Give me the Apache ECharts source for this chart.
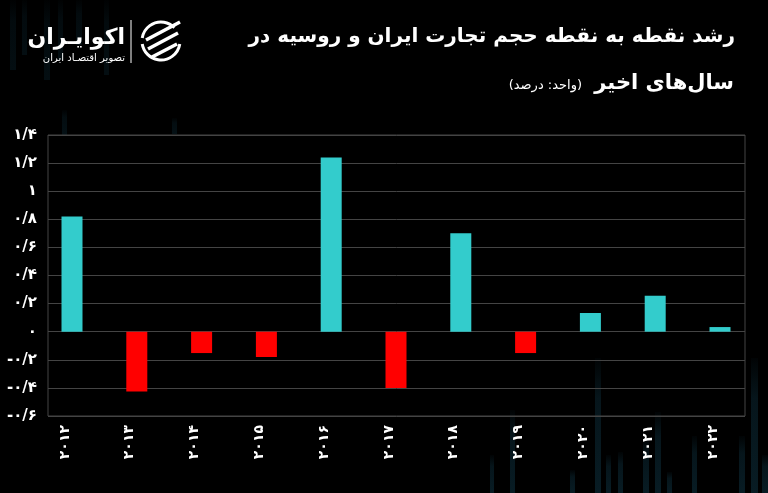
<!DOCTYPE html>
<html><head><meta charset="utf-8">
<script src="https://cdn.jsdelivr.net/npm/echarts@6/dist/echarts.min.js"></script>
<style>html,body{margin:0;padding:0;background:#000}#c{width:768px;height:493px}</style>
</head><body><div id="c"></div>
<script>
// ---- data ----
const years = ['2012','2013','2014','2015','2016','2017','2018','2019','2020','2021','2022'];
const growth = [0.82, -0.425, -0.152, -0.18, 1.24, -0.40, 0.70, -0.152, 0.133, 0.256, 0.033];
const yMin = -0.6, yMax = 1.4, yStep = 0.2;
const titleLine1 = 'رشد نقطه به نقطه حجم تجارت ایران و روسیه در';
const titleLine2 = 'سال\u200cهای اخیر';
const unitText = '(واحد: درصد)';
const brandName = 'اکوایـران';
const brandSub = 'تصویر اقتصـاد ایران';

const fa = s => String(s).replace(/[0-9]/g, d => '۰۱۲۳۴۵۶۷۸۹'[d]);
const fmtY = v => {
  const r = Math.round(v * 10) / 10;
  if (r === 0) return '۰';
  return fa(String(r)).replace('.', '/');
};

const FONT = 'DejaVu Sans';
const POS = '#33CCCC', NEG = '#FF0000';

// decorative background stripes (not data)
const deco = [
  [10,0,6,70,0.5],[22,0,5,55,0.5],[44,0,6,80,0.5],[58,0,5,60,0.5],[62,110,5,25,0.6],[76,0,6,45,0.5],[104,0,5,75,0.5],[172,118,5,16,0.6],
  [595,358,6,135,1],[606,455,5,38,1],[618,452,5,41,1],[643,440,6,53,1],[655,412,6,81,1],[667,472,5,21,1],
  [692,436,5,57,1],[739,436,6,57,1],[751,358,7,135,1],[762,455,6,38,1],[570,470,5,23,1],[510,410,5,83,1],[490,455,4,38,1]
];
const decoGraphics = deco.map(([x,y,w,h,a]) => ({
  type:'rect', z:-10, silent:true,
  shape:{x, y, width:w, height:h},
  style:{opacity:a, fill:new echarts.graphic.LinearGradient(0,0,0,1,[
    {offset:0,color:'rgba(20,70,90,0.05)'},{offset:0.3,color:'rgba(20,70,90,0.3)'},{offset:1,color:'rgba(20,70,90,0.4)'}])}
}));

const chart = echarts.init(document.getElementById('c'), null, {renderer:'canvas'});
chart.setOption({
  backgroundColor:'#000',
  animation:false,
  grid:[
    {left:48, right:23, top:135, bottom:77, show:true, borderColor:'#444', borderWidth:1, z:0},
    {left:39.6, right:15.6, top:135, bottom:77},
    {left:32.6, right:22.6, top:135, bottom:77}
  ],
  xAxis:[
    {gridIndex:0, type:'category', data:years, show:false},
    {gridIndex:1, type:'category', data:years, show:false},
    {gridIndex:2, type:'category', data:years, boundaryGap:true,
     axisLine:{show:false}, axisTick:{show:false}, splitLine:{show:false},
     axisLabel:{show:true, rotate:90, margin:9, color:'#fff', fontFamily:FONT, fontWeight:'bold', fontSize:14,
                formatter:v => fa(v)}}
  ],
  yAxis:[
    {gridIndex:0, type:'value', min:yMin, max:yMax, interval:yStep,
     axisLine:{show:false}, axisTick:{show:false},
     splitLine:{show:true, lineStyle:{color:'#444', width:1}},
     axisLabel:{color:'#fff', fontFamily:FONT, fontWeight:'bold', fontSize:15, margin:11,
                padding:[0,0,8,0], formatter:fmtY}},
    {gridIndex:1, type:'value', min:yMin, max:yMax, interval:yStep, show:false, splitLine:{show:false}},
    {gridIndex:2, type:'value', min:yMin, max:yMax, interval:yStep, show:false, splitLine:{show:false}}
  ],
  series:[{
    type:'bar', xAxisIndex:1, yAxisIndex:1, barWidth:21,
    data:growth.map(v => ({value:v, itemStyle:{color: v >= 0 ? POS : NEG}}))
  }],
  graphic:[
    ...decoGraphics,
    {type:'text', x:735, y:37, style:{text:titleLine1, fill:'#fff', font:'bold 20px "'+FONT+'"', align:'right', verticalAlign:'middle'}},
    {type:'text', x:734, y:84, style:{text:titleLine2, fill:'#fff', font:'bold 21px "'+FONT+'"', align:'right', verticalAlign:'middle'}},
    {type:'text', x:582, y:86, style:{text:unitText, fill:'#fff', font:'13px "'+FONT+'"', align:'right', verticalAlign:'middle'}},
    {type:'text', x:125, y:38, style:{text:brandName, fill:'#fff', font:'bold 22px "'+FONT+'"', align:'right', verticalAlign:'middle'}},
    {type:'text', x:125, y:58, style:{text:brandSub, fill:'#fff', font:'10px "'+FONT+'"', align:'right', verticalAlign:'middle'}},
    {type:'line', shape:{x1:131, y1:20, x2:131, y2:63}, style:{stroke:'#fff', lineWidth:1}},
    {type:'arc', shape:{cx:161, cy:41, r:19, startAngle:Math.PI*0.05, endAngle:Math.PI*0.95}, style:{stroke:'#fff', lineWidth:3, fill:null}},
    {type:'arc', shape:{cx:161, cy:41, r:19, startAngle:Math.PI*1.05, endAngle:Math.PI*1.75}, style:{stroke:'#fff', lineWidth:3, fill:null}},
    {type:'line', shape:{x1:146, y1:40, x2:180, y2:22}, style:{stroke:'#fff', lineWidth:3.5}},
    {type:'line', shape:{x1:148, y1:49, x2:178, y2:33}, style:{stroke:'#fff', lineWidth:3.5}},
    {type:'line', shape:{x1:152, y1:57, x2:177, y2:44}, style:{stroke:'#fff', lineWidth:3.5}}
  ]
});
</script></body></html>
